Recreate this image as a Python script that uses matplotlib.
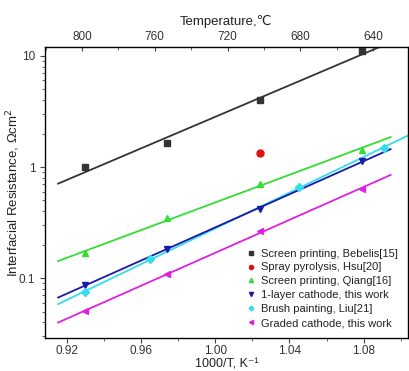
import numpy as np
import matplotlib
matplotlib.use("Agg")
import matplotlib.pyplot as plt
from matplotlib.ticker import NullFormatter, MultipleLocator

plt.rcParams['font.family'] = ['Liberation Sans', 'DejaVu Sans']

# 1000/T values of the measurements
x_main = [0.9297, 0.9741, 1.0243, 1.0790]
x_cyan = [0.9297, 0.9649, 1.0449, 1.0908]

bebelis = [1.00, 1.64, 3.99, 11.0]
hsu_x = [1.0243]
hsu = [1.35]
qiang = [0.168, 0.347, 0.708, 1.43]
one_layer = [0.087, 0.184, 0.422, 1.13]
liu = [0.0748, 0.150, 0.66, 1.47]
graded = [0.051, 0.108, 0.264, 0.64]

labels = ['Screen printing, Bebelis[15]', 'Spray pyrolysis, Hsu[20]',
          'Screen printing, Qiang[16]', '1-layer cathode, this work',
          'Brush painting, Liu[21]', 'Graded cathode, this work']

fig = plt.figure(figsize=(4.09, 3.71), dpi=100)
ax = fig.add_axes([45/409, 1 - 338/371, 363/409, 291/371])

def fit_line(xs, ys, x0, x1, color):
    k, b = np.polyfit(xs, np.log10(ys), 1)
    xx = np.array([x0, x1])
    ax.plot(xx, 10 ** (k * xx + b), color=color, lw=1.3, zorder=2)

fit_line(x_main, bebelis, 0.9151, 1.0946, '#333333')
fit_line(x_main, qiang, 0.9151, 1.0946, '#33dd33')
fit_line(x_cyan, liu, 0.9151, 1.12, '#33ddee')
fit_line(x_main, one_layer, 0.9151, 1.0946, '#1a1aa8')
fit_line(x_main, graded, 0.9151, 1.0946, '#e020e0')

ms = 4
ax.plot(x_main, bebelis, 's', color='#333333', ms=ms, ls='none', label=labels[0], zorder=3)
ax.plot(hsu_x, hsu, 'o', color='#e01010', ms=ms + 1, ls='none', label=labels[1], zorder=3)
ax.plot(x_main, qiang, '^', color='#33dd33', ms=ms + 1, ls='none', label=labels[2], zorder=3)
ax.plot(x_main, one_layer, 'v', color='#1a1aa8', ms=ms + 1, ls='none', label=labels[3], zorder=3)
ax.plot(x_cyan, liu, 'D', color='#33ddee', ms=ms, ls='none', label=labels[4], zorder=3)
ax.plot(x_main, graded, '<', color='#e020e0', ms=ms + 1, ls='none', label=labels[5], zorder=3)

ax.set_yscale('log')
ax.set_xlim(0.908, 1.104)
ax.set_ylim(0.029, 12.0)
ax.set_xticks([0.92, 0.96, 1.00, 1.04, 1.08])
ax.set_xticklabels(['0.92', '0.96', '1.00', '1.04', '1.08'])
ax.xaxis.set_minor_locator(MultipleLocator(0.02))
ax.set_yticks([0.1, 1, 10])
ax.set_yticklabels(['0.1', '1', '10'])
ax.yaxis.set_minor_formatter(NullFormatter())
ax.tick_params(which='both', direction='out', labelsize=8.5, color='#444444', labelcolor='#333333')
ax.tick_params(which='major', length=3.5)
ax.tick_params(which='minor', length=2)
ax.tick_params(axis='x', pad=1.5)
ax.tick_params(axis='y', which='both', right=True, direction='out')
ax.set_xlabel('1000/T, K\u207b\u00b9', fontsize=9, color='#222222', labelpad=1)
ax.set_ylabel('Interfacial Resistance, \u03a9cm$^2$', fontsize=9.5, color='#222222', labelpad=-2)
for s in ax.spines.values():
    s.set_color('#444444')
    s.set_linewidth(1.0)

# top temperature axis
top = ax.twiny()
top.set_xlim(820.3, 620.8)
top.set_xticks([800, 760, 720, 680, 640])
top.xaxis.set_minor_locator(MultipleLocator(20))
top.tick_params(which='both', direction='in', labelsize=8.5, color='#444444', labelcolor='#333333', pad=3)
top.tick_params(which='major', length=3)
top.tick_params(which='minor', length=2)
top.set_xlabel('Temperature,\u2103', fontsize=9.5, color='#222222', labelpad=4)

leg = ax.legend(loc='lower right', bbox_to_anchor=(1.0, 0.0), frameon=False, fontsize=8,
                markerscale=0.6, handletextpad=0.3, labelspacing=0.35, borderaxespad=0.5,
                handlelength=1.2, labelcolor='#222222')

fig.savefig('out.png', dpi=100)
